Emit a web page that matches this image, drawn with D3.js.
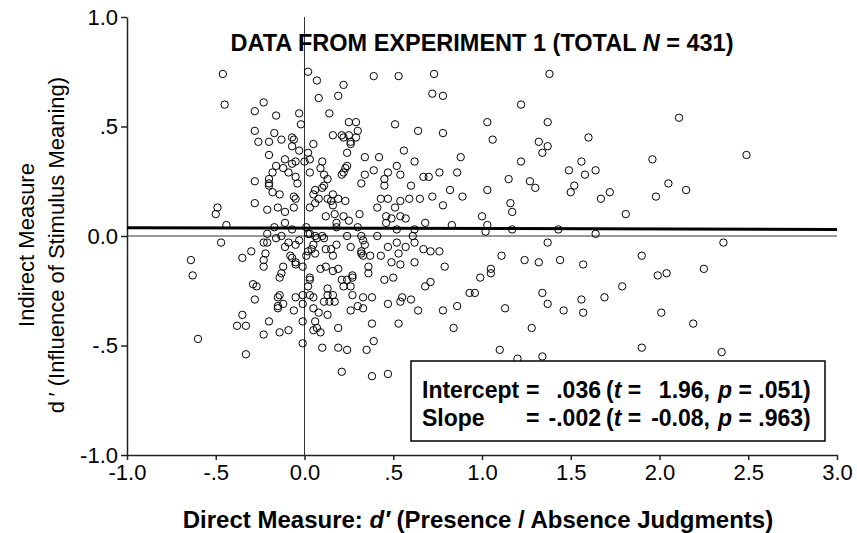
<!DOCTYPE html>
<html>
<head>
<meta charset="utf-8">
<script src="https://cdn.jsdelivr.net/npm/d3@7"></script>
<style>
  body { margin: 0; background: #fff; }
  text { font-family: Arial, "Liberation Sans", sans-serif; }
</style>
</head>
<body>
<div id="chart"></div>
<script>
// axis ticks
var xTicks = [-1, -0.5, 0, 0.5, 1, 1.5, 2, 2.5, 3];
var xTickLabels = ["-1.0", "-.5", "0.0", ".5", "1.0", "1.5", "2.0", "2.5", "3.0"];
var yTicks = [-1, -0.5, 0, 0.5, 1];
var yTickLabels = ["-1.0", "-.5", "0.0", ".5", "1.0"];

// fitted line
var intercept = 0.036;
var slope = -0.002;

// [direct d', indirect d'] per subject
var points = [
  [-0.46,0.74],[-0.45,0.60],[-0.23,0.61],[-0.28,0.57],[-0.16,0.55],[-0.03,0.56],[-0.02,0.51],[-0.28,0.48],[-0.17,0.47],[-0.26,0.43],
  [-0.20,0.43],[-0.13,0.44],[-0.07,0.45],[-0.06,0.44],[-0.07,0.41],[-0.03,0.39],[-0.20,0.37],[-0.11,0.35],[-0.05,0.34],[-0.07,0.33],
  [0.00,0.34],[-0.16,0.32],[-0.12,0.31],[-0.09,0.29],[-0.18,0.29],[-0.20,0.26],[-0.20,0.24],[-0.20,0.23],[-0.28,0.25],[-0.05,0.27],
  [-0.04,0.24],[-0.18,0.20],[-0.14,0.19],[-0.06,0.18],[-0.05,0.17],[-0.28,0.15],[-0.21,0.12],[-0.15,0.13],[-0.11,0.11],[-0.06,0.13],
  [-0.49,0.13],[-0.50,0.10],
  [0.02,0.75],[0.07,0.71],[0.22,0.69],[0.39,0.73],[0.53,0.73],[0.73,0.74],[0.08,0.63],[0.19,0.64],[0.72,0.65],[0.14,0.56],
  [0.25,0.52],[0.29,0.52],[0.30,0.48],[0.51,0.51],[0.64,0.48],[0.16,0.46],[0.21,0.46],[0.22,0.45],[0.25,0.46],[0.29,0.45],
  [0.26,0.43],[0.26,0.42],[0.05,0.42],[0.02,0.38],[0.24,0.38],[0.56,0.39],[0.34,0.36],[0.42,0.36],[0.03,0.35],[0.10,0.34],
  [0.62,0.34],[0.24,0.32],[0.23,0.31],[0.52,0.32],[0.09,0.31],[0.39,0.30],[0.03,0.29],[0.22,0.29],[0.21,0.28],[0.47,0.29],
  [0.54,0.28],[0.11,0.28],[0.34,0.28],[0.13,0.26],[0.45,0.26],[0.67,0.27],[0.70,0.27],[0.32,0.24],[0.45,0.23],[0.11,0.23],
  [0.10,0.22],[0.60,0.23],[0.06,0.21],[0.05,0.19],[0.08,0.17],[0.13,0.17],[0.16,0.19],[0.15,0.16],[0.19,0.17],[0.23,0.16],
  [0.06,0.15],[0.16,0.14],[0.43,0.17],[0.47,0.17],[0.54,0.16],[0.59,0.17],[0.65,0.17],[0.72,0.18],[0.03,0.13],[0.41,0.13],
  [0.51,0.13],[0.12,0.09],[0.17,0.10],[0.22,0.09],[0.31,0.10],[0.46,0.09],[0.49,0.08],[0.54,0.09],[0.57,0.08],
  [1.38,0.74],[0.78,0.64],[1.22,0.60],[2.11,0.54],[1.03,0.52],[1.37,0.52],[0.78,0.47],[1.06,0.44],[1.32,0.43],[1.37,0.41],
  [1.34,0.38],[1.60,0.45],[0.88,0.36],[1.96,0.35],[2.49,0.37],[1.22,0.34],[1.56,0.34],[1.49,0.30],[1.58,0.28],[1.64,0.30],
  [0.76,0.29],[0.86,0.29],[1.15,0.26],[1.27,0.25],[1.30,0.22],[1.52,0.23],[1.50,0.20],[2.05,0.24],[2.15,0.21],[1.98,0.18],
  [0.82,0.21],[0.89,0.18],[1.03,0.21],[0.78,0.14],[1.16,0.15],[1.17,0.11],[1.72,0.20],[1.67,0.17],[1.81,0.10],[1.00,0.09],
  [-0.44,0.05],[-0.11,0.06],[-0.17,0.04],[-0.07,0.03],[-0.21,0.01],[-0.13,0.00],[-0.16,-0.01],[-0.03,-0.02],[-0.23,-0.03],[-0.21,-0.03],
  [-0.47,-0.03],[-0.09,-0.03],[-0.05,-0.04],[-0.11,-0.05],[-0.30,-0.07],[-0.35,-0.10],[-0.64,-0.11],[-0.22,-0.08],[-0.23,-0.11],[-0.08,-0.09],
  [-0.07,-0.10],[-0.05,-0.12],[-0.05,-0.13],[-0.01,-0.14],[-0.23,-0.14],[-0.12,-0.14],[-0.63,-0.18],[-0.13,-0.17],[-0.14,-0.19],[-0.29,-0.22],
  [-0.27,-0.23],[-0.14,-0.27],[-0.15,-0.28],[-0.01,-0.27],[-0.05,-0.28],[-0.28,-0.29],[-0.12,-0.31],[-0.15,-0.32],[-0.15,-0.33],[-0.01,-0.31],
  [-0.06,-0.34],[-0.35,-0.36],[-0.20,-0.39],[-0.38,-0.41],[-0.33,-0.41],[-0.01,-0.39],[-0.23,-0.45],[-0.14,-0.44],[-0.09,-0.43],[-0.01,-0.49],
  [-0.60,-0.47],[-0.33,-0.54],
  [0.18,0.06],[0.25,0.07],[0.46,0.06],[0.68,0.06],[0.18,0.04],[0.30,0.04],[0.52,0.03],[0.62,0.03],[0.01,0.04],[0.02,0.01],
  [0.03,0.01],[0.06,0.00],[0.10,0.00],[0.24,0.00],[0.32,0.00],[0.41,0.00],[0.61,0.00],[0.07,-0.01],[0.11,-0.01],[0.33,-0.02],
  [0.62,-0.03],[0.52,-0.03],[0.34,-0.04],[0.18,-0.04],[0.05,-0.04],[0.04,-0.06],[0.12,-0.06],[0.15,-0.06],[0.26,-0.05],[0.47,-0.05],
  [0.57,-0.05],[0.67,-0.06],[0.71,-0.07],[0.02,-0.07],[0.06,-0.08],[0.01,-0.09],[0.16,-0.09],[0.32,-0.07],[0.32,-0.08],[0.33,-0.09],
  [0.37,-0.09],[0.43,-0.09],[0.53,-0.08],[0.49,-0.12],[0.54,-0.13],[0.62,-0.12],[0.09,-0.15],[0.12,-0.14],[0.16,-0.16],[0.19,-0.15],
  [0.36,-0.14],[0.36,-0.17],[0.03,-0.19],[0.03,-0.20],[0.02,-0.23],[0.21,-0.20],[0.24,-0.20],[0.27,-0.18],[0.27,-0.19],[0.22,-0.23],
  [0.26,-0.23],[0.45,-0.20],[0.50,-0.19],[0.68,-0.23],[0.71,-0.21],[0.13,-0.24],[0.13,-0.27],[0.16,-0.27],[0.03,-0.27],[0.05,-0.28],
  [0.27,-0.27],[0.33,-0.28],[0.38,-0.28],[0.11,-0.30],[0.14,-0.30],[0.17,-0.30],[0.30,-0.32],[0.33,-0.33],[0.26,-0.34],[0.55,-0.28],
  [0.54,-0.30],[0.60,-0.29],[0.47,-0.31],[0.64,-0.34],[0.05,-0.33],[0.08,-0.35],[0.13,-0.36],[0.06,-0.39],[0.07,-0.42],[0.05,-0.43],
  [0.09,-0.44],[0.19,-0.42],[0.38,-0.40],[0.53,-0.40],[0.39,-0.48],[0.10,-0.51],[0.19,-0.51],[0.24,-0.52],[0.35,-0.52],
  [0.21,-0.62],[0.38,-0.64],[0.47,-0.63],
  [0.83,0.05],[1.03,0.05],[1.02,0.02],[1.17,0.03],[1.43,0.03],[1.64,0.01],[1.37,-0.03],[2.36,-0.03],[0.76,-0.07],[0.79,-0.14],
  [1.11,-0.09],[1.24,-0.11],[1.32,-0.12],[1.44,-0.11],[1.57,-0.13],[1.90,-0.09],[1.05,-0.15],[1.05,-0.17],[0.99,-0.19],[1.99,-0.18],
  [2.04,-0.17],[2.25,-0.15],[0.93,-0.26],[0.96,-0.26],[1.34,-0.26],[1.79,-0.23],[1.69,-0.28],[1.56,-0.29],[0.78,-0.34],[0.86,-0.32],
  [1.13,-0.33],[1.37,-0.31],[1.46,-0.34],[1.57,-0.35],[2.01,-0.35],[2.19,-0.40],[0.84,-0.42],[1.28,-0.42],[1.10,-0.52],[1.90,-0.51],
  [2.35,-0.53],[1.20,-0.56],[1.34,-0.55],[1.01,-0.60],[1.20,-0.64]
];

var margin = {top: 17, left: 127, bottom: 78, right: 20};
var width = 857 - margin.left - margin.right;
var height = 533 - margin.top - margin.bottom;

var svg = d3.select("#chart").append("svg")
    .attr("width", 857)
    .attr("height", 533);

var g = svg.append("g")
    .attr("transform", "translate(" + margin.left + "," + margin.top + ")");

var x = d3.scaleLinear().domain([-1, 3]).range([0, width]);
var y = d3.scaleLinear().domain([-1, 1]).range([height, 0]);

// axes
var xAxisCall = d3.axisBottom(x).tickValues(xTicks)
    .tickFormat(function(d, i){ return xTickLabels[i]; })
    .tickSize(5).tickSizeOuter(0).tickPadding(4);
var xAxisGroup = g.append("g").attr("class", "x axis")
    .attr("transform", "translate(0," + height + ")")
    .call(xAxisCall);

var yAxisCall = d3.axisLeft(y).tickValues(yTicks)
    .tickFormat(function(d, i){ return yTickLabels[i]; })
    .tickSize(6).tickSizeOuter(0).tickPadding(3);
var yAxisGroup = g.append("g").attr("class", "y axis").call(yAxisCall);

g.selectAll(".axis path").attr("stroke", "#222").attr("stroke-width", 1.5);
g.selectAll(".axis line").attr("stroke", "#222").attr("stroke-width", 1.5);
g.selectAll(".axis text")
    .attr("font-size", "22px")
    .attr("fill", "#000")
    .attr("font-family", "Arial, 'Liberation Sans', sans-serif");

// zero reference lines
g.append("line")
    .attr("x1", x(0)).attr("x2", x(0))
    .attr("y1", 0).attr("y2", height)
    .attr("stroke", "#333").attr("stroke-width", 1);
g.append("line")
    .attr("x1", 0).attr("x2", width)
    .attr("y1", y(0)).attr("y2", y(0))
    .attr("stroke", "#333").attr("stroke-width", 1);

// regression line
g.append("line")
    .attr("x1", x(-1)).attr("x2", x(3))
    .attr("y1", y(intercept + slope * -1))
    .attr("y2", y(intercept + slope * 3))
    .attr("stroke", "#000").attr("stroke-width", 3);

// title
var title = svg.append("text")
    .attr("x", 482).attr("y", 51)
    .attr("text-anchor", "middle")
    .attr("font-size", "23.5px")
    .attr("font-weight", "bold");
title.append("tspan").text("DATA FROM EXPERIMENT 1 (TOTAL ");
title.append("tspan").attr("font-style", "italic").text("N");
title.append("tspan").text(" = 431)");

// stats box
var box = svg.append("g");
box.append("rect")
    .attr("x", 411).attr("y", 361)
    .attr("width", 414).attr("height", 80)
    .attr("fill", "#fff").attr("stroke", "#000").attr("stroke-width", 1.5);

var statRows = [
  {label: "Intercept", b: ".036", t: "1.96,", p: ".051)"},
  {label: "Slope", b: "-.002", t: "-0.08,", p: ".963)"}
];
statRows.forEach(function(r, i){
    var by = 398 + i * 28;
    var row = box.append("g").attr("font-size", "23px").attr("font-weight", "bold");
    row.append("text").attr("x", 422).attr("y", by).text(r.label);
    row.append("text").attr("x", 526).attr("y", by).text("=");
    row.append("text").attr("x", 601).attr("y", by).attr("text-anchor", "end").text(r.b);
    var tt = row.append("text").attr("x", 606).attr("y", by);
    tt.append("tspan").text("(");
    tt.append("tspan").attr("font-style", "italic").text("t");
    tt.append("tspan").text(" =");
    row.append("text").attr("x", 710).attr("y", by).attr("text-anchor", "end").text(r.t);
    var pt = row.append("text").attr("x", 718).attr("y", by);
    pt.append("tspan").attr("font-style", "italic").text("p");
    pt.append("tspan").text(" = " + r.p);
});

// points
g.selectAll("circle").data(points).enter().append("circle")
    .attr("cx", function(d){ return x(d[0]); })
    .attr("cy", function(d){ return y(d[1]); })
    .attr("r", 3.7)
    .attr("fill", "none")
    .attr("stroke", "#000")
    .attr("stroke-width", 1);

// X label
var xLabel = svg.append("text")
    .attr("x", 478).attr("y", 528)
    .attr("text-anchor", "middle")
    .attr("font-size", "24px")
    .attr("font-weight", "bold");
xLabel.append("tspan").text("Direct Measure: ");
xLabel.append("tspan").attr("font-style", "italic").text("d\u2032");
xLabel.append("tspan").text(" (Presence / Absence Judgments)");

// Y label (two lines)
svg.append("text")
    .attr("transform", "translate(34,245) rotate(-90)")
    .attr("text-anchor", "middle")
    .attr("font-size", "22px")
    .text("Indirect Measure");
svg.append("text")
    .attr("transform", "translate(64,245) rotate(-90)")
    .attr("text-anchor", "middle")
    .attr("font-size", "22px")
    .text("d\u2009\u2032 (Influence of Stimulus Meaning)");
</script>
</body>
</html>
